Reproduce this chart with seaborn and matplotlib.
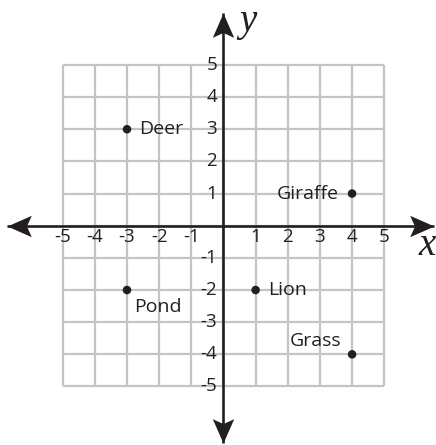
import numpy as np
import pandas as pd
import matplotlib
matplotlib.use("Agg")
import matplotlib.pyplot as plt
from matplotlib.path import Path
from matplotlib.markers import MarkerStyle
from matplotlib.transforms import Affine2D
import seaborn as sns

# ---- data ----
names = ["Deer", "Giraffe", "Pond", "Lion", "Grass"]
xs = [-3, 4, -3, 1, 4]
ys = [3, 1, -2, -2, -4]
x_ticks = [-5, -4, -3, -2, -1, 1, 2, 3, 4, 5]
y_ticks = [5, 4, 3, 2, 1, -1, -2, -3, -4, -5]
grid_vals = list(range(-5, 6))

sns.set_style("white")
plt.rcParams["font.family"] = ["Open Sans", "DejaVu Sans"]
INK = "#231f20"

fig = plt.figure(figsize=(4.36, 4.45), dpi=100)
ax = fig.add_axes([0, 0, 1, 1])
ax.set_axis_off()

# grid
gmin, gmax = min(grid_vals), max(grid_vals)
ax.vlines(grid_vals, gmin, gmax, color="#c4c4c4", lw=1.6, zorder=1)
ax.hlines(grid_vals, gmin, gmax, color="#c4c4c4", lw=1.6, zorder=1)

# axes with arrowheads
x_left, x_right = -6.73, 6.55
y_bot, y_top = -6.76, 6.62
ax.plot([x_left, x_right], [0, 0], color=INK, lw=1.9, zorder=2, solid_capstyle="butt")
ax.plot([0, 0], [y_bot, y_top], color=INK, lw=1.9, zorder=2, solid_capstyle="butt")

stealth = Path([(0, 0), (-1, 0.44), (-0.8, 0), (-1, -0.44), (0, 0)],
               [Path.MOVETO, Path.LINETO, Path.LINETO, Path.LINETO, Path.CLOSEPOLY])
for (px, py, ang) in [(x_right, 0, 0), (x_left, 0, 180), (0, y_top, 90), (0, y_bot, 270)]:
    m = MarkerStyle(stealth, transform=Affine2D().rotate_deg(ang))
    ax.plot([px], [py], marker=m, markersize=35, color=INK, markeredgewidth=0, zorder=3)

# tick labels
for v in x_ticks:
    ax.text(v, -0.35, f"{v}", ha="center", va="center",
            fontsize=13.5, color=INK, zorder=4)
for v in y_ticks:
    ax.text(-0.2, v, f"{v}", ha="right", va="center", fontsize=13.5, color=INK, zorder=4)

# axis letters
ax.text(6.33, -0.63, "x", fontsize=28, family="Liberation Serif", style="italic",
        ha="center", va="center", color=INK)
ax.text(0.76, 6.36, "y", fontsize=28, family="Liberation Serif", style="italic",
        ha="center", va="center", color=INK)

# points
df = pd.DataFrame({"x": xs, "y": ys, "name": names})
sns.scatterplot(data=df, x="x", y="y", ax=ax, color=INK, s=38, edgecolor="none",
                zorder=5, legend=False)
ax.set_xlim(-6.95, 6.61)
ax.set_ylim(-6.82, 7.02)

# point labels
offsets = {
    "Deer": (0.38, 0.0, "left", "center"),
    "Giraffe": (-0.41, 0.0, "right", "center"),
    "Pond": (0.22, -0.53, "left", "center"),
    "Lion": (0.38, 0.0, "left", "center"),
    "Grass": (-0.32, 0.42, "right", "center"),
}
for n, x, y in zip(names, xs, ys):
    dx, dy, ha, va = offsets[n]
    ax.text(x + dx, y + dy, n, ha=ha, va=va, fontsize=14, color=INK, zorder=6)

fig.savefig("out.png", dpi=100)
